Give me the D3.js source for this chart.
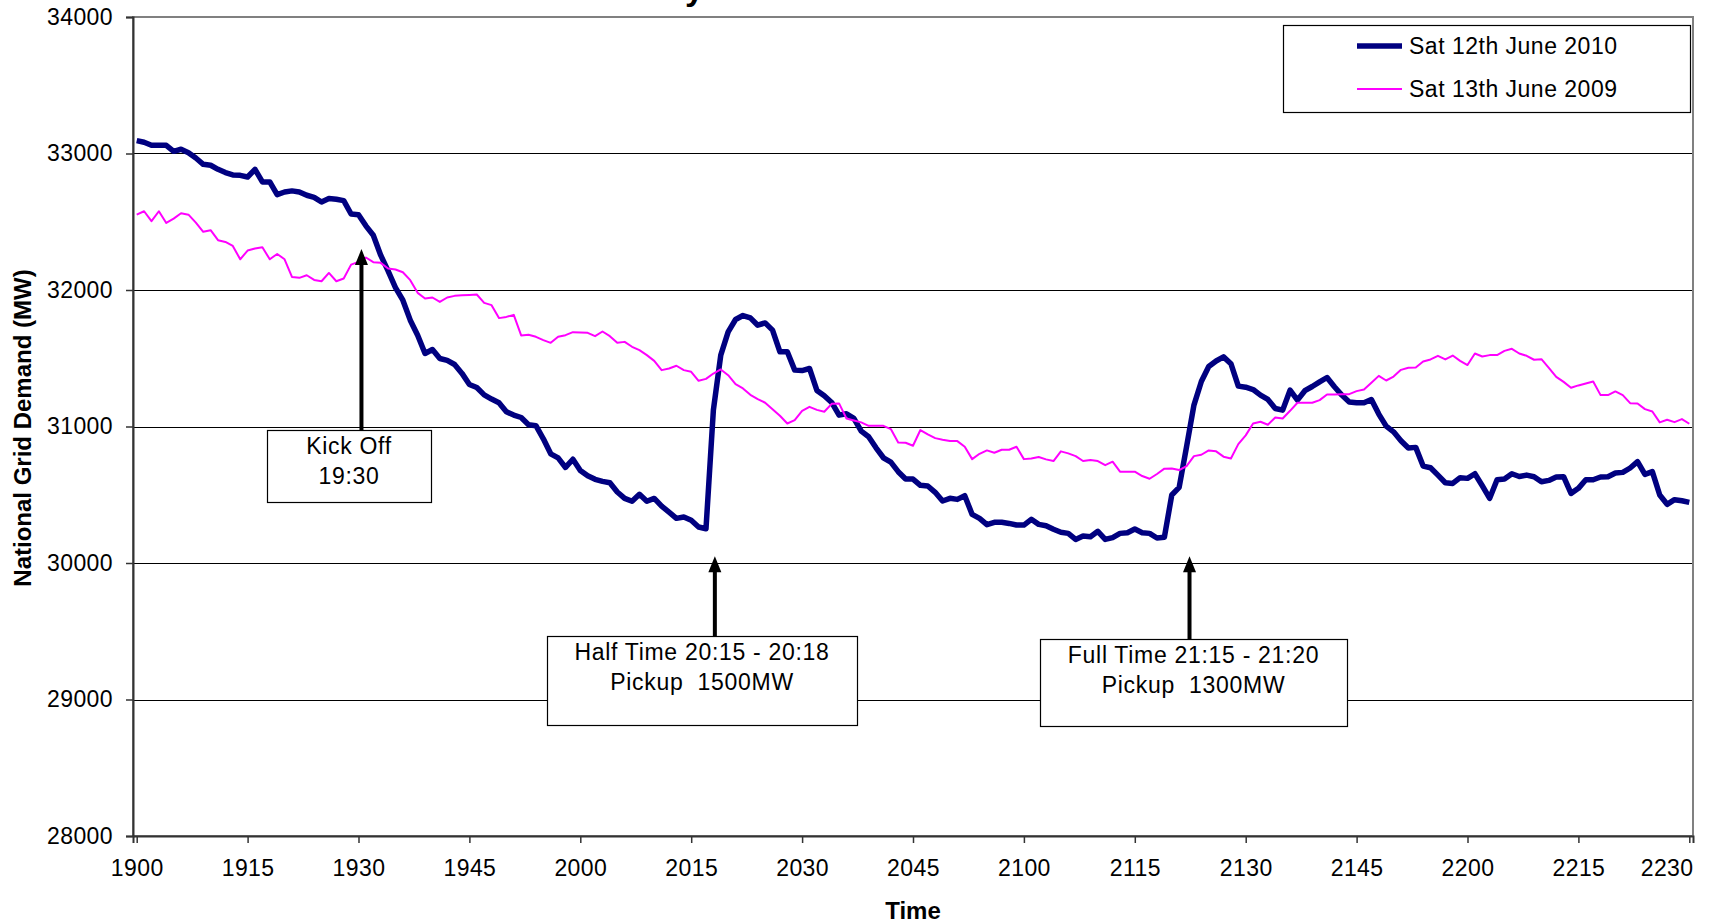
<!DOCTYPE html>
<html>
<head>
<meta charset="utf-8">
<script src="https://cdnjs.cloudflare.com/ajax/libs/d3/7.8.5/d3.min.js"></script>
<style>
  body { margin: 0; background: #fff; }
  text { font-family: "Liberation Sans", Arial, sans-serif; fill: #000; }
</style>
</head>
<body>
<div id="grafico"></div>
<script>
// one category per minute, starting 19:00
const startMinute = 19 * 60;

const tickLabels = ["1900", "1915", "1930", "1945", "2000", "2015", "2030", "2045",
    "2100", "2115", "2130", "2145", "2200", "2215", "2230"];

const yTicks = [28000, 29000, 30000, 31000, 32000, 33000, 34000];

const seriesNames = ["Sat 12th June 2010", "Sat 13th June 2009"];

// Sat 12th June 2010 (MW)
const demand2010 = [
    33094, 33082, 33060, 33060, 33060, 33016, 33031, 33006, 32967, 32921,
    32914, 32884, 32860, 32843, 32840, 32828, 32884, 32792, 32792, 32699,
    32718, 32726, 32718, 32694, 32679, 32645, 32670, 32665, 32655, 32557,
    32552, 32470, 32401, 32255, 32140, 32018, 31925, 31779, 31669, 31535,
    31564, 31498, 31484, 31454, 31389, 31308, 31286, 31232, 31201, 31174,
    31108, 31084, 31066, 31013, 31006, 30910, 30800, 30770, 30700, 30760,
    30678, 30639, 30613, 30598, 30588, 30520, 30473, 30452, 30503, 30452,
    30473, 30417, 30373, 30327, 30337, 30313, 30264, 30251, 31120, 31523,
    31693, 31784, 31813, 31796, 31742, 31759, 31706, 31547, 31547, 31413,
    31410, 31425, 31264, 31225, 31176, 31083, 31093, 31059, 30966, 30925,
    30844, 30771, 30739, 30669, 30615, 30615, 30569, 30564, 30518, 30454,
    30474, 30466, 30493, 30356, 30327, 30281, 30298, 30298, 30290, 30278,
    30278, 30320, 30283, 30273, 30247, 30225, 30217, 30173, 30198, 30193,
    30232, 30173, 30186, 30217, 30222, 30249, 30222, 30217, 30183, 30188,
    30498, 30554, 30852, 31157, 31330, 31440, 31480, 31510, 31460, 31296,
    31288, 31271, 31230, 31198, 31132, 31120, 31266, 31193, 31262, 31293,
    31327, 31359, 31291, 31230, 31179, 31174, 31174, 31198, 31091, 31003,
    30961, 30896, 30842, 30847, 30710, 30698, 30644, 30588, 30583, 30625,
    30620, 30654, 30566, 30474, 30610, 30615, 30654, 30634, 30644, 30632,
    30595, 30605, 30630, 30632, 30510, 30547, 30610, 30610, 30630, 30632,
    30659, 30664, 30696, 30742, 30649, 30669, 30498, 30430, 30464, 30456,
    30444
];

// Sat 13th June 2009 (MW)
const demand2009 = [
    32552, 32577, 32504, 32577, 32491, 32523, 32562, 32552, 32494, 32426,
    32438, 32365, 32352, 32323, 32225, 32289, 32304, 32313, 32225, 32264,
    32225, 32096, 32089, 32108, 32074, 32064, 32125, 32064, 32084, 32186,
    32206, 32238, 32204, 32199, 32157, 32150, 32130, 32072, 31979, 31938,
    31945, 31913, 31945, 31957, 31962, 31964, 31967, 31906, 31889, 31794,
    31803, 31818, 31667, 31672, 31657, 31633, 31613, 31657, 31669, 31691,
    31689, 31686, 31662, 31696, 31662, 31613, 31620, 31584, 31559, 31523,
    31481, 31413, 31425, 31445, 31413, 31401, 31335, 31349, 31388, 31418,
    31376, 31310, 31279, 31232, 31201, 31174, 31127, 31079, 31022, 31047,
    31115, 31144, 31122, 31108, 31166, 31169, 31059, 31044, 31030, 31005,
    31005, 31005, 30981, 30883, 30881, 30859, 30974, 30942, 30915, 30903,
    30893, 30893, 30852, 30761, 30800, 30825, 30808, 30830, 30830, 30852,
    30761, 30766, 30776, 30759, 30747, 30818, 30803, 30783, 30747, 30754,
    30747, 30717, 30742, 30669, 30669, 30669, 30637, 30617, 30652, 30691,
    30693, 30681, 30710, 30783, 30793, 30825, 30818, 30779, 30766, 30871,
    30935, 31022, 31035, 31013, 31066, 31059, 31115, 31174, 31174, 31174,
    31193, 31235, 31235, 31237, 31237, 31259, 31271, 31320, 31371, 31337,
    31366, 31415, 31430, 31432, 31476, 31491, 31518, 31491, 31520, 31481,
    31450, 31535, 31513, 31523, 31523, 31554, 31569, 31535, 31518, 31489,
    31493, 31430, 31364, 31327, 31284, 31301, 31315, 31330, 31230, 31230,
    31257, 31230, 31171, 31169, 31127, 31110, 31030, 31049, 31032, 31054,
    31020
];

// annotation texts, arrow position (category) and arrow tip (MW)
const noteLines = [["Kick Off", "19:30"],
    ["Half Time 20:15 - 20:18", "Pickup  1500MW"],
    ["Full Time 21:15 - 21:20", "Pickup  1300MW"]];
const noteAt = [30.4, 78.2, 142.4];
const noteTip = [32300, 30050, 30050];


desenhaGrafico();

function desenhaGrafico() {

    const width = 1734,
        height = 924;

    const plot = {left: 133, right: 1693, top: 17, bottom: 836};

    const n = demand2010.length;

    const x = d3.scaleLinear()
        .domain([-0.5, n - 0.5])
        .range([plot.left, plot.right]);

    const y = d3.scaleLinear()
        .domain([d3.min(yTicks), d3.max(yTicks)])
        .range([plot.bottom, plot.top]);

    const colors = ['#000080', '#ff00ff'];
    const widths = [5.5, 2];

    let svg = d3.select('#grafico').append('svg')
        .attr('width', width)
        .attr('height', height);

    // title, cut off at the top of the picture
    svg.append('text')
        .attr('x', 704)
        .attr('y', -0.5)
        .attr('text-anchor', 'end')
        .style('font-size', '34px')
        .style('font-weight', 'bold')
        .text('Demand on Match Day');

    // gridlines
    svg.append('g')
        .selectAll('line')
        .data(yTicks.slice(1, -1))
        .enter()
        .append('line')
        .attr('x1', plot.left)
        .attr('x2', plot.right)
        .attr('y1', d => Math.round(y(d)) + 0.5)
        .attr('y2', d => Math.round(y(d)) + 0.5)
        .attr('stroke', '#000')
        .attr('stroke-width', 1);

    // plot border
    svg.append('rect')
        .attr('x', plot.left)
        .attr('y', plot.top)
        .attr('width', plot.right - plot.left)
        .attr('height', plot.bottom - plot.top)
        .attr('fill', 'none')
        .attr('stroke', '#808080')
        .attr('stroke-width', 2);

    // axes
    let yAxis = svg.append('g')
        .attr('transform', 'translate(' + plot.left + ',0)')
        .call(d3.axisLeft(y).tickValues(yTicks).tickSize(7).tickPadding(13).tickFormat(d3.format('d')));

    let tickIdx = tickLabels.map(t => (+t.slice(0, 2)) * 60 + (+t.slice(2)) - startMinute);

    let xAxis = svg.append('g')
        .attr('transform', 'translate(0,' + plot.bottom + ')')
        .call(d3.axisBottom(x).tickValues(tickIdx).tickSize(7).tickPadding(17)
            .tickFormat((d, i) => tickLabels[i]));

    [yAxis, xAxis].forEach(a => {
        a.selectAll('text').style('font-size', '23px').style('letter-spacing', '0.4px').attr('font-family', null);
        a.select('.domain').attr('stroke', '#333').attr('stroke-width', 2);
        a.selectAll('.tick line').attr('stroke', '#333').attr('stroke-width', 1.5);
    });

    // the last label is kept inside the plot width
    xAxis.selectAll('.tick text')
        .filter((d, i) => i === tickLabels.length - 1)
        .attr('text-anchor', 'end')
        .attr('x', plot.right - x(tickIdx[tickIdx.length - 1]));

    // axis titles
    svg.append('text')
        .attr('transform', 'translate(31,428) rotate(-90)')
        .attr('text-anchor', 'middle')
        .style('font-size', '24px')
        .style('font-weight', 'bold')
        .text('National Grid Demand (MW)');

    svg.append('text')
        .attr('x', (plot.left + plot.right) / 2)
        .attr('y', 919)
        .attr('text-anchor', 'middle')
        .style('font-size', '24px')
        .style('font-weight', 'bold')
        .text('Time');

    // data lines (2009 drawn on top)
    let line = d3.line()
        .x((d, i) => x(i))
        .y(d => y(d));

    [demand2010, demand2009].forEach((s, k) => {
        svg.append('path')
            .datum(s)
            .attr('d', line)
            .attr('fill', 'none')
            .attr('stroke', colors[k])
            .attr('stroke-width', widths[k])
            .attr('stroke-linejoin', 'round');
    });

    // annotation boxes
    const boxes = [
        {x: 267, y: 430, w: 164, h: 72},
        {x: 547, y: 636, w: 310, h: 89},
        {x: 1040, y: 639, w: 307, h: 87}
    ];

    noteLines.forEach((lines, k) => {
        let b = boxes[k];
        let ax = x(noteAt[k]);
        let tip = y(noteTip[k]);

        svg.append('line')
            .attr('x1', ax).attr('x2', ax)
            .attr('y1', b.y).attr('y2', tip + 14)
            .attr('stroke', '#000')
            .attr('stroke-width', 4);

        svg.append('path')
            .attr('d', 'M' + ax + ',' + tip + 'L' + (ax - 6.5) + ',' + (tip + 16) + 'L' + (ax + 6.5) + ',' + (tip + 16) + 'Z')
            .attr('fill', '#000');

        svg.append('rect')
            .attr('x', b.x + 0.5).attr('y', b.y + 0.5)
            .attr('width', b.w).attr('height', b.h)
            .attr('fill', '#fff')
            .attr('stroke', '#000')
            .attr('stroke-width', 1.2);

        svg.append('g')
            .selectAll('text')
            .data(lines)
            .enter()
            .append('text')
            .attr('x', b.x + b.w / 2)
            .attr('y', (d, i) => b.y + 24 + i * 30)
            .attr('text-anchor', 'middle')
            .style('font-size', '23px')
            .style('letter-spacing', '0.7px')
            .style('white-space', 'pre')
            .text(d => d);
    });

    // legend
    let legend = svg.append('g');

    legend.append('rect')
        .attr('x', 1283.5).attr('y', 25.5)
        .attr('width', 407).attr('height', 87)
        .attr('fill', '#fff')
        .attr('stroke', '#000')
        .attr('stroke-width', 1.2);

    seriesNames.forEach((name, k) => {
        let ly = 46 + k * 43;
        legend.append('line')
            .attr('x1', 1357).attr('x2', 1402)
            .attr('y1', ly).attr('y2', ly)
            .attr('stroke', colors[k])
            .attr('stroke-width', widths[k]);
        legend.append('text')
            .attr('x', 1409)
            .attr('y', ly + 8)
            .style('font-size', '23px')
            .style('letter-spacing', '0.5px')
            .text(name);
    });
}
</script>
</body>
</html>
